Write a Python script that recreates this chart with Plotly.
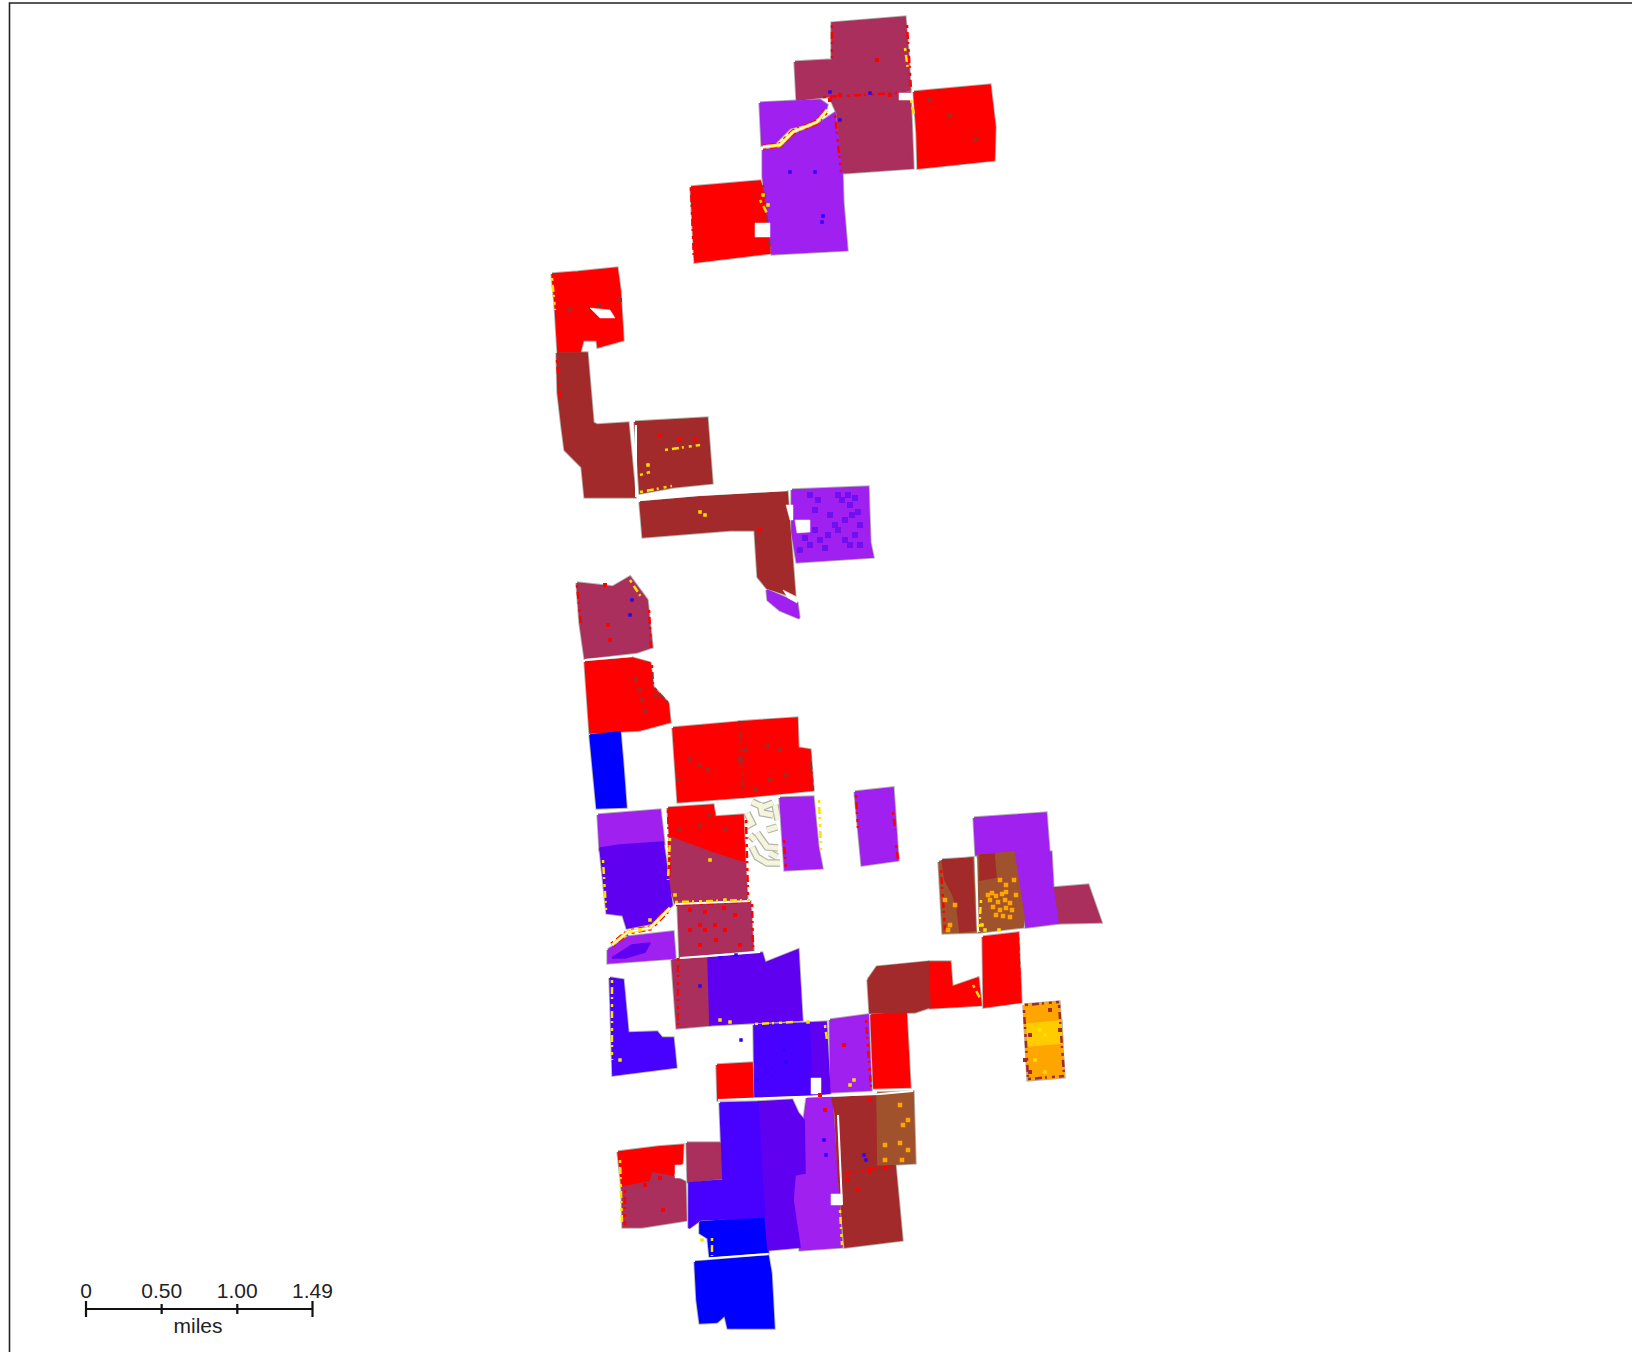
import plotly.graph_objects as go

# Field outlines, grouped by land-class colour (page pixels)
RED_FIELDS = [
    [(914,92),(990,85),(995,127),(994,160),(918,168),(917,133)],
    [(691,187),(760,181),(767,200),(770,253),(695,262)],
    [(552,274),(578,272),(617,268),(620,290),(622,323),(623,340),(598,347),(597,340),(583,340),(580,352),(558,352),(555,303)],
    [(585,662),(632,658),(650,663),(653,687),(668,703),(670,722),(640,730),(590,733)],
    [(673,728),(740,722),(743,797),(678,802)],
    [(738,722),(797,718),(798,748),(810,750),(813,790),(743,797)],
    [(668,808),(713,805),(715,817),(743,815),(745,865),(713,855),(670,839)],
    [(983,937),(1018,933),(1021,1002),(984,1007)],
    [(928,962),(950,962),(952,987),(967,982),(978,978),(981,1005),(930,1008)],
    [(871,1015),(906,1012),(910,1087),(874,1088)],
    [(717,1065),(752,1063),(753,1098),(718,1100)],
    [(618,1152),(658,1147),(683,1145),(682,1163),(675,1170),(673,1177),(653,1183),(622,1187)],
]
MAROON_FIELDS = [
    [(795,62),(832,60),(832,23),(905,17),(908,53),(910,90),(898,93),(823,97),(797,100)],
    [(830,97),(910,92),(913,168),(842,173),(837,113)],
    [(577,583),(613,587),(630,577),(647,600),(652,647),(637,652),(585,658),(580,623)],
    [(670,837),(713,853),(745,863),(747,900),(675,903),(668,880)],
    [(678,905),(750,902),(753,950),(680,957)],
    [(672,960),(708,958),(712,1010),(710,1025),(677,1028)],
    [(1053,888),(1088,885),(1101,922),(1058,923)],
    [(622,1187),(650,1182),(653,1173),(675,1177),(685,1182),(686,1220),(642,1227),(623,1227)],
    [(687,1143),(720,1143),(723,1178),(688,1182)],
]
PURPLE_FIELDS = [
    [(760,103),(820,100),(827,105),(825,112),(810,123),(790,128),(773,145),(762,145)],
    [(763,150),(780,148),(793,135),(817,125),(835,113),(842,173),(843,203),(847,250),(772,254),(763,177)],
    [(792,490),(868,487),(870,543),(873,557),(797,562),(792,533)],
    [(767,590),(797,603),(799,618),(780,610),(768,600)],
    [(598,815),(660,810),(664,844),(620,847),(600,850)],
    [(608,950),(628,937),(673,932),(675,958),(608,963)],
    [(780,798),(813,797),(818,847),(822,868),(785,870)],
    [(855,792),(893,788),(898,860),(862,865)],
    [(974,818),(1046,813),(1049,852),(1016,852),(976,855)],
    [(1015,853),(1051,852),(1053,888),(1058,923),(1026,927)],
    [(830,1020),(868,1015),(871,1090),(831,1092)],
    [(807,1098),(832,1097),(837,1173),(842,1247),(800,1250),(793,1200),(795,1175),(805,1173),(804,1120)],
]
BROWN_FIELDS = [
    [(557,353),(587,353),(590,388),(593,423),(597,425),(628,423),(635,497),(585,497),(582,467),(565,450),(562,427),(558,393)],
    [(635,422),(707,418),(712,483),(673,487),(640,493)],
    [(640,502),(698,497),(787,492),(795,597),(767,588),(758,577),(755,530),(730,530),(643,537)],
    [(868,980),(877,967),(928,962),(930,1007),(915,1012),(870,1013)],
    [(832,1098),(877,1095),(878,1165),(895,1165),(898,1197),(902,1240),(845,1247),(838,1173),(835,1113)],
]
BLUE_FIELDS = [
    [(590,735),(620,732),(623,767),(626,807),(597,808)],
    [(700,1222),(765,1217),(768,1252),(710,1257),(708,1238),(700,1233)],
    [(695,1262),(768,1256),(771,1273),(774,1328),(728,1328),(725,1315),(717,1322),(700,1323),(697,1300)],
]
INDIGO_FIELDS = [
    [(600,848),(620,845),(663,842),(672,905),(653,923),(627,928),(623,915),(607,913)],
    [(708,958),(762,953),(765,963),(780,957),(798,950),(802,1020),(710,1025)],
    [(808,1023),(826,1022),(830,1093),(811,1095)],
    [(758,1102),(792,1100),(798,1113),(804,1120),(805,1173),(795,1175),(793,1200),(800,1247),(768,1250),(765,1217),(762,1178)],
    [(612,958),(632,945),(650,943),(645,952),(625,958)],
]
VIOLET_BLUE_FIELDS = [
    [(610,978),(623,980),(628,1033),(657,1032),(662,1038),(673,1038),(676,1067),(613,1075)],
    [(754,1025),(809,1023),(812,1095),(755,1097)],
    [(720,1103),(758,1102),(762,1178),(765,1217),(700,1220),(689,1228),(689,1183),(723,1180)],
]
SIENNA_FIELDS = [
    [(978,855),(1014,852),(1024,917),(1023,927),(979,932)],
    [(939,862),(973,858),(976,932),(943,933)],
    [(877,1093),(913,1092),(915,1163),(878,1165)],
]
BROWN_PATCHES = [
    [(942,860),(972,858),(975,930),(960,932),(957,907),(952,893),(945,880)],
    [(980,855),(994,854),(996,877),(980,880)],
]
ORANGE_FIELDS = [
    [(1024,1005),(1059,1002),(1064,1077),(1028,1080)],
]
GOLD_FIELDS = [
    [(1027,1024),(1061,1021),(1062,1043),(1028,1046)],
]
WHITE_HOLES = [
    [(899,93),(912,93),(912,100),(899,100)],
    [(755,223),(770,223),(770,237),(755,237)],
    [(590,308),(610,310),(615,318),(600,318)],
    [(795,520),(810,520),(810,532),(797,533)],
    [(811,1078),(821,1078),(821,1094),(811,1094)],
    [(831,1194),(842,1194),(842,1205),(831,1205)],
    [(675,1165),(683,1165),(683,1178),(675,1178)],
    [(783,590),(797,597),(797,603),(788,598)],
    [(786,505),(793,505),(793,520),(790,520)],
]
CREAM_SQUIGGLES = [
    [(752,802),(763,807),(773,803)],
    [(760,803),(762,813),(773,815)],
    [(747,813),(752,823),(745,827)],
    [(757,833),(767,847),(778,848)],
    [(777,827),(767,830)],
    [(752,847),(757,857),(767,863),(780,863)],
    [(770,853),(777,857)],
    [(775,805),(778,820)],
    [(750,835),(755,840)],
]
CREEKS = [
    [(763,147),(780,145),(793,132),(817,122),(827,110)],
    [(612,945),(628,932),(650,928),(670,908)],
]
FIELD_GAPS = [
    [(640,500),(698,495),(787,490)],
    [(585,660),(632,656)],
    [(675,904),(750,901)],
    [(680,958),(708,956),(760,952)],
    [(718,1100),(805,1097),(880,1094),(913,1091)],
    [(636,425),(636,497)],
    [(976,858),(978,932)],
    [(838,1115),(842,1205)],
    [(700,1259),(768,1254)],
]
RED_EDGES = [
    [(823,97),(897,93)],
    [(832,25),(832,58)],
    [(907,25),(911,90)],
    [(835,115),(841,172)],
    [(668,810),(670,880)],
    [(676,905),(750,902)],
    [(678,958),(678,1025)],
    [(746,820),(748,895)],
    [(1018,937),(1020,990)],
    [(625,1190),(625,1225)],
    [(838,1175),(880,1167)],
    [(577,585),(581,625)],
    [(649,610),(651,648)],
    [(856,795),(858,828)],
    [(893,812),(895,830)],
    [(896,845),(898,860)],
    [(784,840),(786,868)],
    [(691,188),(694,260)],
    [(866,1020),(871,1088)],
    [(752,904),(753,948)],
    [(941,870),(945,930)],
    [(557,360),(560,400)],
]
BROWN_EDGES = [
    [(740,725),(743,795)],
    [(763,185),(770,250)],
    [(652,665),(653,687),(668,703)],
    [(810,755),(813,790)],
    [(1024,1010),(1028,1078)],
    [(1059,1005),(1064,1075)],
    [(1025,1005),(1059,1002)],
    [(1028,1079),(1064,1076)],
]
YELLOW_EDGES = [
    [(905,48),(908,70)],
    [(911,100),(914,115)],
    [(760,200),(768,215)],
    [(552,278),(555,310)],
    [(620,1160),(622,1225)],
    [(670,838),(668,880)],
    [(675,902),(750,900)],
    [(603,860),(606,910)],
    [(612,980),(612,1060)],
    [(825,1025),(827,1040)],
    [(755,1024),(795,1022)],
    [(840,1210),(842,1245)],
    [(981,900),(979,932)],
    [(665,450),(700,445)],
    [(640,475),(650,472)],
    [(630,580),(643,600)],
    [(712,1238),(712,1256)],
    [(973,985),(981,1000)],
    [(819,800),(821,850)],
    [(640,492),(672,486)],
]
RED_DOTS = [(877,60),(840,95),(890,95),(830,100),(740,205),(748,250),(680,440),(695,440),(660,435),(605,585),(608,625),(610,640),
            (740,945),(700,925),(705,930),(715,925),(725,930),(700,945),(690,930),(716,940),(735,915),(690,910),(705,912),(724,908),
            (825,1110),(844,1045),(880,1040),(857,1190),(645,1185),(663,1210),(870,1100),(690,815),(705,820),(740,845),(725,840),(760,530),
            (820,1095),(848,1180),(870,1172),(885,1168),(660,1178)]
BLUE_DOTS = [(790,172),(815,172),(823,216),(822,222),(840,120),(830,92),(870,93),(630,615),(632,600),(741,1040),(786,1062),
             (826,1155),(824,1140),(700,986),(720,958),(736,955),(768,1072),(757,1080),(784,1050),(864,1155),(866,1160)]
VIOLET_SPECKLE = [(810,495),(818,500),(815,510),(838,495),(842,500),(848,495),(850,505),(855,498),(830,515),(835,525),(845,520),(852,515),
                  (858,512),(820,540),(825,548),(838,530),(845,540),(850,545),(855,535),(860,525),(810,545),(805,538),(815,530),(828,535),(860,545),(800,550)]
BROWN_DOTS = [(678,780),(700,765),(690,760),(708,770),(745,750),(755,790),(770,780),(768,745),(740,760),(636,680),(642,700),(645,712),(655,695),
              (680,830),(700,825),(710,815),(725,830),(620,300),(570,310),(600,305),(780,750),(785,775),(950,115),(930,100),(975,140),(640,690),
              (1030,1072),(1050,1010),(1060,1030),(1030,1035),(1025,1060)]
YELLOW_DOTS = [(768,205),(763,195),(700,512),(705,515),(648,465),(710,860),(725,900),(650,920),(640,930),(702,1240),(850,1085),(854,1080),(808,1022),
               (720,1020),(730,1022),(620,1060),(999,930),(1045,1072),(675,895),(982,925),(985,930),(1040,1030),(1045,1035),(1035,1060)]
ORANGE_DOTS = [(988,895),(992,893),(996,896),(1002,894),(1006,892),(990,900),(998,902),(1005,900),(1010,903),(993,907),(1000,910),(1006,908),(1012,910),
               (996,915),(1003,916),(1010,917),(1000,880),(1006,885),(1014,880),(1016,895),(955,905),(948,930),(950,925),(945,900),
               (900,1105),(903,1125),(900,1143),(908,1150),(908,1120),(885,1145),(885,1160),(902,1160)]

SCALE_MILES = [0, 0.50, 1.00, 1.497]
SCALE_LABELS = ["0", "0.50", "1.00", "1.49"]
PX_PER_MILE = 151.3
COLORS = {"red":"#FF0000","maroon":"#AA2F5C","purple":"#A020F0","brown":"#A32A2A","blue":"#0000FF",
          "indigo":"#6000F0","violetblue":"#4800FF","sienna":"#A0522D","orange":"#FFA500","gold":"#FFCC00"}
GREY = "#B4B4AE"
ROUGH = "3px,4px,7px,3px,2px,5px"

GROUPS = [(RED_FIELDS,"red"),(MAROON_FIELDS,"maroon"),(PURPLE_FIELDS,"purple"),(BROWN_FIELDS,"brown"),
          (BLUE_FIELDS,"blue"),(INDIGO_FIELDS,"indigo"),(VIOLET_BLUE_FIELDS,"violetblue"),(SIENNA_FIELDS,"sienna"),
          (BROWN_PATCHES,"brown"),(ORANGE_FIELDS,"orange"),(GOLD_FIELDS,"gold")]

def flat(polys, close=True):
    xs, ys = [], []
    for p in polys:
        pts = list(p) + ([p[0]] if close else [])
        xs += [q[0] for q in pts] + [None]
        ys += [q[1] for q in pts] + [None]
    return xs, ys

fig = go.Figure()

def fill(polys, color, lw=0.8, lc=None):
    x, y = flat(polys)
    fig.add_trace(go.Scatter(x=x, y=y, mode="lines", fill="toself", fillcolor=color,
                             line=dict(color=lc or color, width=lw), hoverinfo="skip"))

def lines(polys, color, w, dash="solid"):
    x, y = flat(polys, close=False)
    fig.add_trace(go.Scatter(x=x, y=y, mode="lines", line=dict(color=color, width=w, dash=dash), hoverinfo="skip"))

def dots(pts, color, size):
    fig.add_trace(go.Scatter(x=[p[0] for p in pts], y=[p[1] for p in pts], mode="markers",
                             marker=dict(color=color, size=size, symbol="square", line=dict(width=0)), hoverinfo="skip"))

# grey halo under every field, then the flat colours
for polys, _ in GROUPS:
    fill(polys, GREY, lw=3.4)
lines(CREAM_SQUIGGLES, GREY, 7.5)
lines(CREAM_SQUIGGLES, "#F5F5DC", 5)
for polys, key in GROUPS:
    fill(polys, COLORS[key], lw=1.6)

dots(VIOLET_SPECKLE, "#7010F0", 6)
lines(BROWN_EDGES, COLORS["brown"], 2.5, ROUGH)
lines(RED_EDGES, COLORS["red"], 2.5, ROUGH)
lines(FIELD_GAPS, "#FFFFFF", 2)
lines(YELLOW_EDGES, "#FFE000", 2.5, ROUGH)
lines(CREEKS, COLORS["red"], 5.5, ROUGH)
lines(CREEKS, "#FFE000", 3.5)
lines(CREEKS, "#FFFFFF", 1.5)
fill(WHITE_HOLES, "#FFFFFF", lw=0.5)
dots(BROWN_DOTS, COLORS["brown"], 4)
dots(RED_DOTS, COLORS["red"], 4)
dots(BLUE_DOTS, "#3000FF", 3.5)
dots(ORANGE_DOTS, COLORS["orange"], 4.5)
dots(YELLOW_DOTS, "#FFE000", 3.5)

# scale bar, positioned from its mile values
BAR_X0, BAR_Y = 86, 1309
bar_x = [BAR_X0 + m * PX_PER_MILE for m in SCALE_MILES]
fig.add_trace(go.Scatter(x=[bar_x[0], bar_x[-1]], y=[BAR_Y, BAR_Y], mode="lines",
                         line=dict(color="#111111", width=2.2), hoverinfo="skip"))
for i, bx in enumerate(bar_x):
    half = 8 if i in (0, len(bar_x) - 1) else 5
    fig.add_trace(go.Scatter(x=[bx, bx], y=[BAR_Y - half, BAR_Y + half], mode="lines",
                             line=dict(color="#111111", width=2.2), hoverinfo="skip"))
fig.add_trace(go.Scatter(x=bar_x, y=[1293] * 4, mode="text", text=SCALE_LABELS, textposition="middle center",
                         textfont=dict(family="Liberation Sans", size=21, color="#222222"), hoverinfo="skip"))
fig.add_trace(go.Scatter(x=[198], y=[1328], mode="text", text=["miles"], textposition="middle center",
                         textfont=dict(family="Liberation Sans", size=21, color="#222222"), hoverinfo="skip"))
# map frame
fig.add_trace(go.Scatter(x=[9.5, 9.5, 1632], y=[1352, 3, 3], mode="lines",
                         line=dict(color="#222222", width=1.6), hoverinfo="skip"))

fig.update_layout(width=1632, height=1352, margin=dict(l=0, r=0, t=0, b=0), showlegend=False,
                  paper_bgcolor="white", plot_bgcolor="white",
                  xaxis=dict(range=[0, 1632], visible=False, fixedrange=True),
                  yaxis=dict(range=[1352, 0], visible=False, fixedrange=True))
fig.write_html("out.html", config=dict(displayModeBar=False),
               post_script="document.body.style.margin='0';document.body.style.overflow='hidden';")
